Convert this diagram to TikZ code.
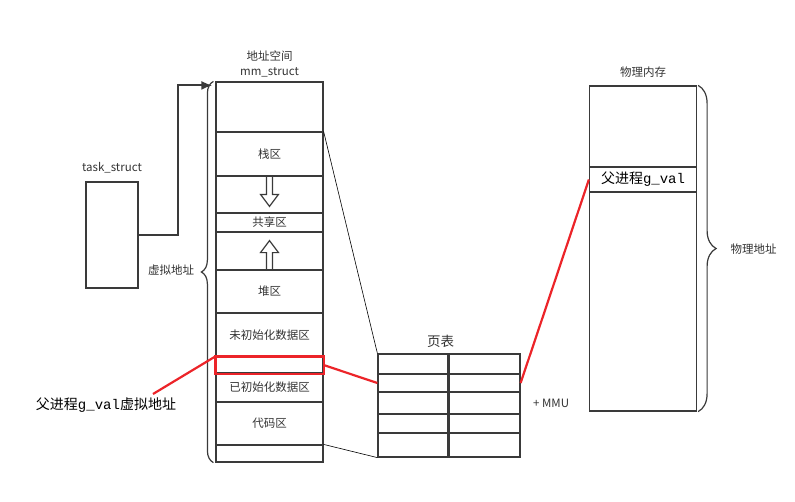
\documentclass[tikz,border=0pt]{standalone}
\usepackage{fontspec}
\setmainfont{Noto Sans CJK SC}
\setmonofont{Liberation Mono}
\usetikzlibrary{calc,arrows.meta,positioning,decorations.pathreplacing}
\definecolor{linegray}{HTML}{3A3A3A}
\definecolor{txtgray}{HTML}{333333}
\definecolor{hlred}{HTML}{EC2429}

\begin{document}
\begin{tikzpicture}[x=1pt,y=-1pt, every node/.style={font=\fontsize{11.5}{15}\selectfont, text=txtgray},
    memrow/.style={draw=linegray, line width=1.2pt, minimum width=107pt, inner sep=0pt},
    ptcell/.style={draw=linegray, line width=1.2pt, inner sep=0pt},
    brc/.style={decorate, draw=linegray, line width=1.2pt},
    redline/.style={hlred, line width=2.2pt},
    bigtxt/.style={font=\fontsize{14}{16}\selectfont, text=black}]
    \useasboundingbox (0,0) rectangle (795,501);
    \foreach \i/\t/\b/\txt in {0/82/132/{},1/132/176/栈区,2/176/213/{},3/213/232/共享区,4/232/270/{},5/270/313/堆区,6/313/357/未初始化数据区,7/357/373/{},8/373/402/已初始化数据区,9/402/445/代码区,10/445/462/{}}{
        \node[memrow, minimum height={(\b-\t)*1pt}] (m\i) at (269.5,{(\t+\b)/2}) {\txt};
    }
    \draw[redline] (m7.north west) rectangle (m7.south east);
    \draw[linegray, line width=1.2pt] (m2.north) ++(-3,0) -- ++(0,19) -- ++(-6,0) -- ++(9,12) -- ++(9,-12) -- ++(-6,0) -- ++(0,-19);
    \draw[linegray, line width=1.2pt] (m4.south) ++(-3,0) -- ++(0,-18) -- ++(-6,0) -- ++(9,-12) -- ++(9,12) -- ++(-6,0) -- ++(0,18);
    \node[above=1pt of m0, align=center] (mmlbl) {地址空间\\mm\_struct};
    \draw[brc, decoration={brace, amplitude=12pt}] ($(m10.south west)+(-2,0)$) -- ($(m0.north west)+(-2,0)$);
    \node (vaddr) at (171,270) {虚拟地址};
    \node[draw=linegray, line width=1.2pt, minimum width=52pt, minimum height=106pt, inner sep=0pt] (task) at (112,235) {};
    \node[above=5pt of task] (tasklbl) {task\_struct};
    \coordinate (mmtop) at ($(m0.north west)+(-3,4)$);
    \draw[linegray, line width=2pt, -{Latex[length=11pt,width=9pt]}] (task.east) -- ++(39,0) |- (mmtop);
    \foreach \r/\t/\b in {1/354/374,2/374/392,3/392/414,4/414/433,5/433/457}{
        \node[ptcell, minimum width=70pt, minimum height={(\b-\t)*1pt}] (pl\r) at (413,{(\t+\b)/2}) {};
        \node[ptcell, minimum width=72pt, minimum height={(\b-\t)*1pt}] (pr\r) at (484,{(\t+\b)/2}) {};
    }
    \draw[linegray, line width=2pt] (pl1.north east) -- (pl5.south east);
    \node[above=2pt of pl1.north east, xshift=-8pt, font=\fontsize{13.5}{15}\selectfont] (ptlbl) {页表};
    \node[right=9pt of pr3] (mmu) {+ MMU};
    \draw[black, line width=0.6pt] (m1.north east) -- (pl1.north west);
    \draw[black, line width=0.6pt] (m10.north east) -- (pl5.south west);
    \foreach \i/\t/\b/\txt in {0/86/167/{},1/167/192/{父进程\texttt{g\_val}},2/192/411/{}}{
        \node[memrow, minimum height={(\b-\t)*1pt}, bigtxt] (ph\i) at (643,{(\t+\b)/2}) {\txt};
    }
    \node[above=4pt of ph0] (phlbl) {物理内存};
    \draw[brc, decoration={brace, amplitude=18pt}] ($(ph0.north east)+(1,0)$) -- ($(ph2.south east)+(1,0)$);
    \node[anchor=west] (paddr) at (727,249) {物理地址};
    \node[bigtxt] (vlabel) at (106,405) {父进程\texttt{g\_val}虚拟地址};
    \coordinate (vstart) at (153,394);
    \draw[redline] (vstart) -- (m7.north west);
    \draw[redline] (m7.east) -- (pl2.west);
    \draw[redline] (pr2.east) -- (ph1.west);
\end{tikzpicture}
\end{document}
